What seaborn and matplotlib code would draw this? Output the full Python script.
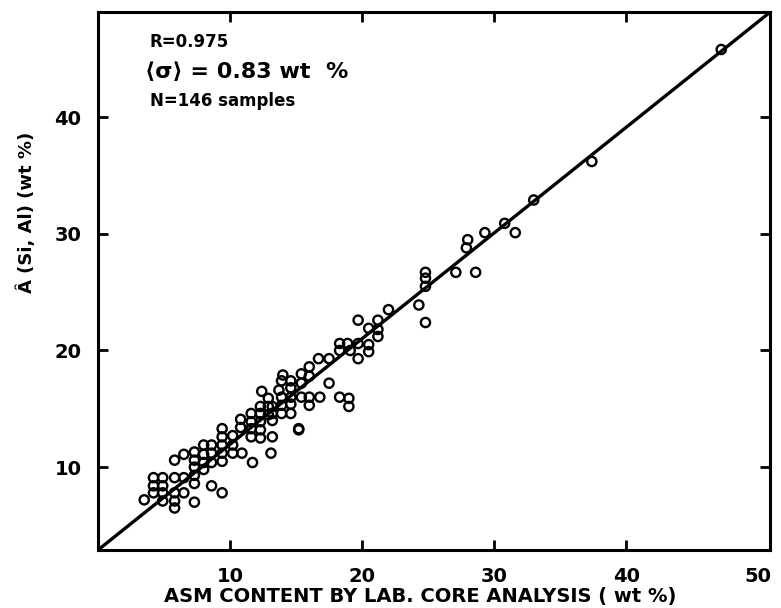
import matplotlib
matplotlib.use("Agg")
import matplotlib.pyplot as plt
import seaborn as sns
import pandas as pd

# Lab core analysis (x) vs estimated A(Si,Al) (y), wt %
x_lab = [
    47.2, 37.4, 33.0, 30.8, 31.6, 29.3, 28.0, 27.9, 27.1, 28.6,
    24.8, 24.8, 24.8, 24.3, 24.8, 22.0, 19.7, 21.2, 20.5, 21.2,
    21.2, 20.5, 19.7, 20.5, 19.7, 18.9, 18.3, 18.3, 19.1, 17.5,
    16.7, 17.5, 16.0, 15.4, 16.0, 14.6, 15.4, 14.6, 13.7, 15.4,
    16.0, 16.8, 18.3, 19.0, 19.0, 16.0, 14.6, 14.6, 13.9, 13.9,
    13.9, 15.2, 13.9, 13.2, 13.2, 13.2, 13.2, 13.1,
    12.3, 12.3, 12.3, 12.3, 12.3,
    11.6, 11.6, 11.6, 11.6,
    10.8, 10.8, 11.7, 10.9,
    10.2, 10.2, 10.2,
    9.4, 9.4, 9.4, 9.4, 9.4, 9.4,
    8.6, 8.6, 8.6, 8.6,
    8.0, 8.0, 8.0, 8.0,
    7.3, 7.3, 7.3, 7.3, 7.3, 7.3,
    6.5, 6.5, 6.5,
    5.8, 5.8, 5.8, 5.8, 5.8,
    4.9, 4.9, 4.9, 4.9,
    4.2, 4.2, 4.2, 3.5,
    15.2, 14.6, 12.9, 12.9, 12.9, 14.0, 12.4,
]
y_est = [
    45.8, 36.2, 32.9, 30.9, 30.1, 30.1, 29.5, 28.8, 26.7, 26.7,
    26.7, 26.2, 25.5, 23.9, 22.4, 23.5, 22.6, 22.6, 21.9, 21.8,
    21.2, 20.5, 20.6, 19.9, 19.3, 20.6, 20.6, 20.0, 20.0, 19.3,
    19.3, 17.2, 18.6, 18.0, 17.8, 17.4, 17.2, 16.8, 16.6, 16.0,
    16.0, 16.0, 16.0, 15.9, 15.2, 15.3, 15.4, 14.6, 16.0, 15.3,
    14.6, 13.3, 17.4, 15.2, 14.6, 14.0, 12.6, 11.2,
    15.2, 14.6, 13.9, 13.2, 12.5,
    14.6, 13.9, 13.3, 12.6,
    14.1, 13.4, 10.4, 11.2,
    12.7, 11.9, 11.2,
    13.3, 12.6, 11.9, 11.2, 10.5, 7.8,
    11.9, 11.2, 8.4, 10.4,
    11.9, 11.1, 10.4, 9.8,
    11.3, 10.6, 10.0, 9.3, 8.6, 7.0,
    11.1, 9.1, 7.8,
    10.6, 9.1, 7.8, 7.1, 6.5,
    9.1, 8.4, 7.8, 7.1,
    9.1, 8.4, 7.8, 7.2,
    13.2, 16.0, 15.9, 15.2, 14.5, 17.9, 16.5,
]

# Regression line drawn corner to corner
fit_x = [0.0, 50.9]
fit_y = [2.9, 49.0]

x_ticks = [10, 20, 30, 40, 50]
y_ticks = [10, 20, 30, 40]

df = pd.DataFrame({"lab": x_lab, "est": y_est})
fit = pd.DataFrame({"x": fit_x, "y": fit_y})

sns.set_style("white")
plt.rcParams["font.family"] = ["DejaVu Sans"]
plt.rcParams["text.color"] = "black"
plt.rcParams["axes.labelcolor"] = "black"
plt.rcParams["xtick.color"] = "black"
plt.rcParams["ytick.color"] = "black"

fig = plt.figure(figsize=(7.81, 6.08), dpi=100)
ax = fig.add_axes([0.1255, 0.0954, 0.8605, 0.8846])

sns.lineplot(data=fit, x="x", y="y", ax=ax, color="black", linewidth=2.4)
sns.scatterplot(data=df, x="lab", y="est", ax=ax, marker="o", s=44,
                edgecolor="black", linewidth=1.7, zorder=3)
ax.collections[-1].set_facecolor("none")

ax.set_xlim(0, 50.9)
ax.set_ylim(2.9, 49.0)
ax.set_xticks(x_ticks)
ax.set_yticks(y_ticks)
ax.set_xticklabels([str(t) for t in x_ticks], fontsize=14, fontweight="bold")
ax.set_yticklabels([str(t) for t in y_ticks], fontsize=14, fontweight="bold")
ax.tick_params(direction="in", length=7, width=2, top=True, right=True,
               bottom=True, left=True, pad=12, colors="black")
xt = ax.xaxis.get_major_ticks()[-1]
xt.tick1line.set_visible(False)
xt.tick2line.set_visible(False)

for sp in ax.spines.values():
    sp.set_linewidth(2.2)
    sp.set_color("black")

ax.set_xlabel("ASM CONTENT BY LAB. CORE ANALYSIS ( wt %)", fontsize=14,
              fontweight="bold", color="black")
ax.xaxis.set_label_coords(0.479, -0.068)
ax.set_ylabel("Â (Si, Al) (wt %)", fontsize=13, fontweight="bold", color="black")
ax.yaxis.set_label_coords(-0.092, 0.628)

ax.text(0.077, 0.945, "R=0.975", transform=ax.transAxes, fontsize=12,
        fontweight="bold", va="center", color="black")
ax.text(0.070, 0.888, "⟨σ⟩ = 0.83 wt  %", transform=ax.transAxes, fontsize=16,
        fontweight="bold", va="center", color="black")
ax.text(0.077, 0.834, "N=146 samples", transform=ax.transAxes, fontsize=12,
        fontweight="bold", va="center", color="black")

fig.savefig("out.png", dpi=100, facecolor="white")
